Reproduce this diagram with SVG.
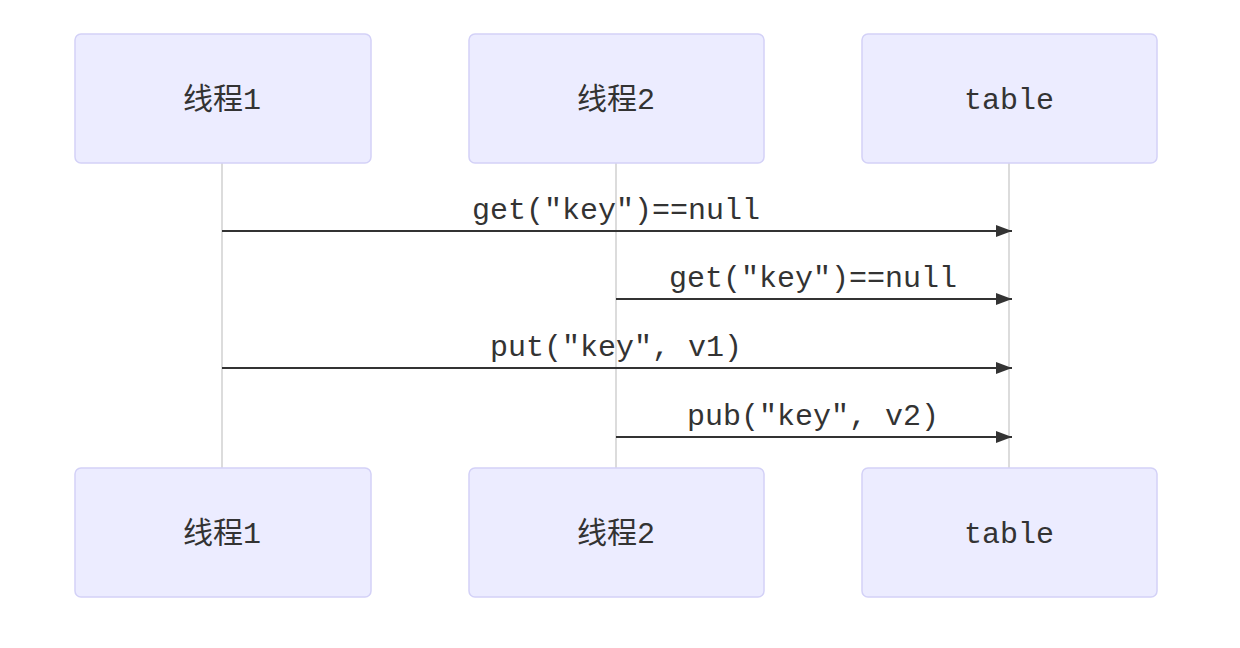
<svg xmlns="http://www.w3.org/2000/svg" width="1240" height="648" viewBox="0 0 1240 648">
<style>
.actor rect{fill:#ECECFF;stroke:#D3D1F7;stroke-width:1.5}
.actor text{fill:#333;font-size:30px;text-anchor:middle;dominant-baseline:central}
.cjk{font-family:"Liberation Mono","Noto Sans CJK SC",monospace}
.mono{font-family:"Liberation Mono","DejaVu Sans Mono",monospace}
.life{stroke:#D0D0D0;stroke-width:1.5}
.msg{stroke:#333;stroke-width:2;fill:none}
.lbl{fill:#333;font-family:"Liberation Mono","DejaVu Sans Mono",monospace;font-size:30px;text-anchor:middle}
</style>
<defs>
<marker id="ah" viewBox="0 0 16 12" refX="16" refY="6" markerWidth="16" markerHeight="12" markerUnits="userSpaceOnUse" orient="auto">
<path d="M0,0 L16,6 L0,12 z" fill="#333"/>
</marker>
</defs>
<rect width="1240" height="648" fill="#ffffff"/>
<g id="lifelines">
<line class="life" x1="222" y1="163" x2="222" y2="468"/>
<line class="life" x1="616" y1="163" x2="616" y2="468"/>
<line class="life" x1="1009" y1="163" x2="1009" y2="468"/>
</g>
<g id="actor1-top" class="actor"><rect x="75" y="34" width="296" height="129" rx="6"/><text class="cjk" x="222" y="101">线程1</text></g>
<g id="actor2-top" class="actor"><rect x="469" y="34" width="295" height="129" rx="6"/><text class="cjk" x="616" y="101">线程2</text></g>
<g id="table-top" class="actor"><rect x="862" y="34" width="295" height="129" rx="6"/><text class="mono" x="1009" y="101">table</text></g>
<g id="actor1-bottom" class="actor"><rect x="75" y="468" width="296" height="129" rx="6"/><text class="cjk" x="222" y="535">线程1</text></g>
<g id="actor2-bottom" class="actor"><rect x="469" y="468" width="295" height="129" rx="6"/><text class="cjk" x="616" y="535">线程2</text></g>
<g id="table-bottom" class="actor"><rect x="862" y="468" width="295" height="129" rx="6"/><text class="mono" x="1009" y="535">table</text></g>
<g id="connectors">
<line class="msg" x1="222" y1="231" x2="1012" y2="231" marker-end="url(#ah)"/>
<text class="lbl" x="616" y="219">get("key")==null</text>
<line class="msg" x1="616" y1="299" x2="1012" y2="299" marker-end="url(#ah)"/>
<text class="lbl" x="813" y="287">get("key")==null</text>
<line class="msg" x1="222" y1="368" x2="1012" y2="368" marker-end="url(#ah)"/>
<text class="lbl" x="616" y="356">put("key", v1)</text>
<line class="msg" x1="616" y1="437" x2="1012" y2="437" marker-end="url(#ah)"/>
<text class="lbl" x="813" y="425">pub("key", v2)</text>
</g>
</svg>
